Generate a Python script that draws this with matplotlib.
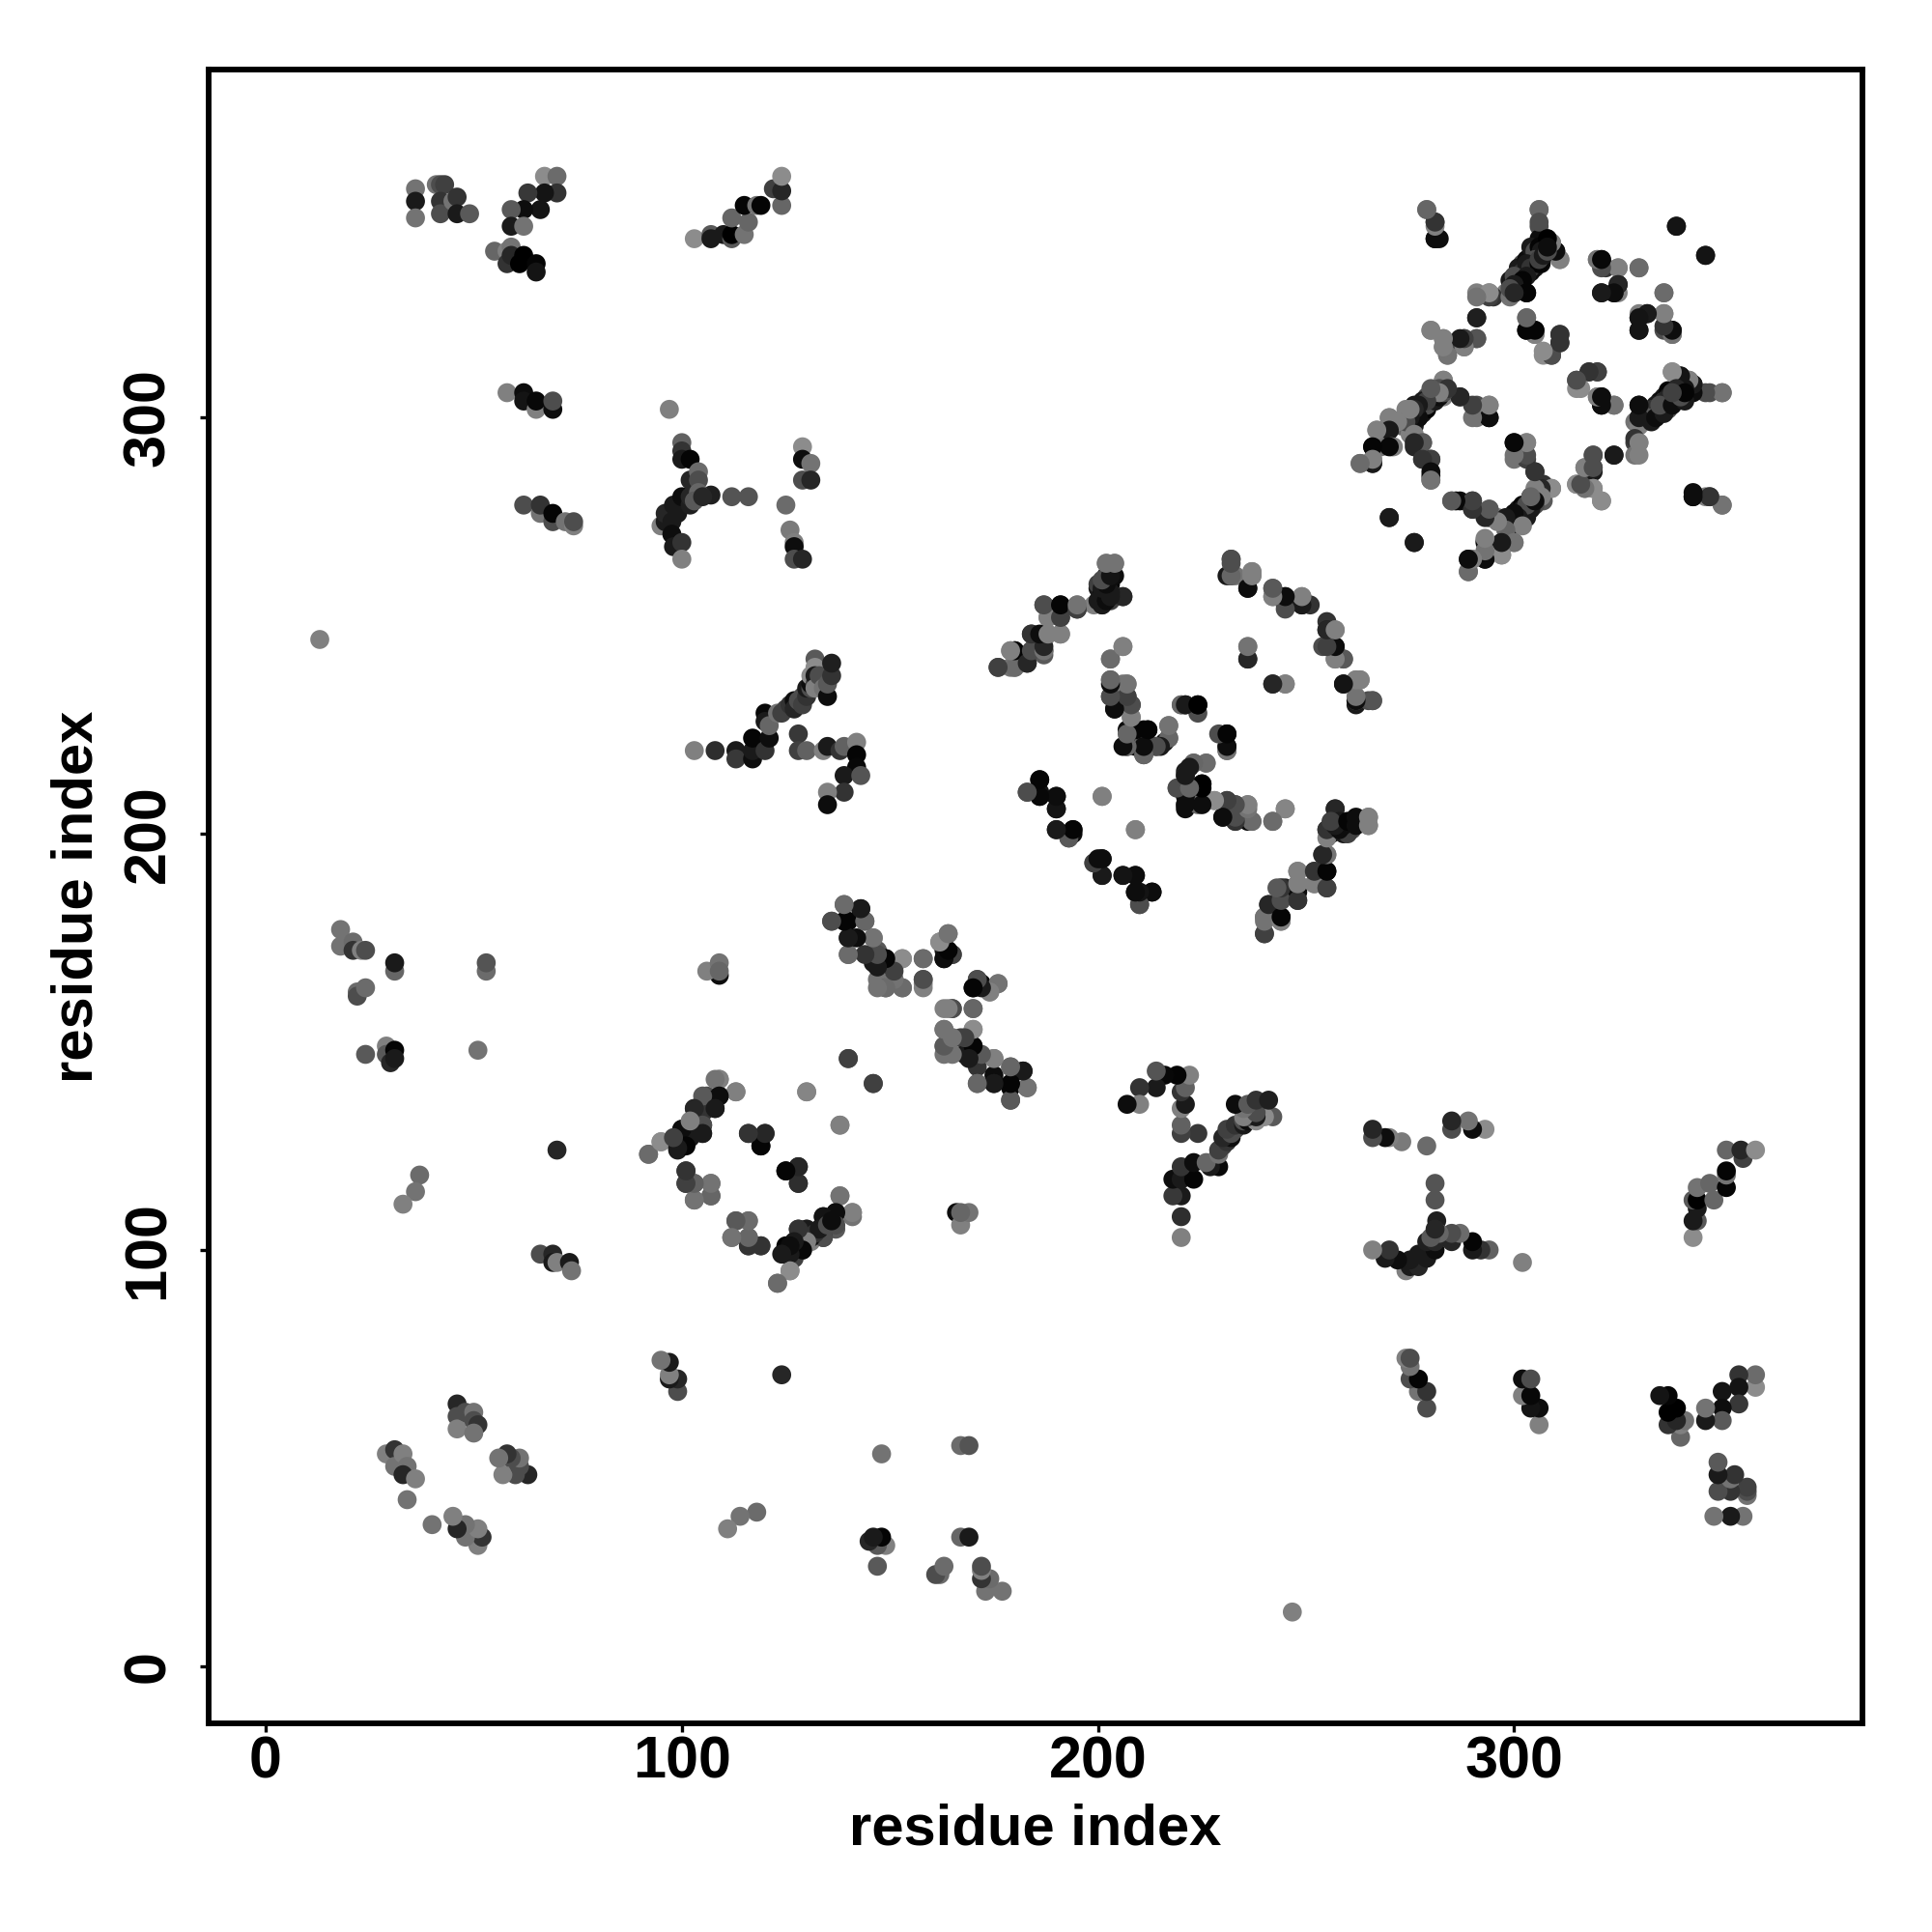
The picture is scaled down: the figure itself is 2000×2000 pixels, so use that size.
import matplotlib
matplotlib.use('Agg')
import matplotlib.pyplot as plt

# contacts as (residue i, residue j, grey level), only i<j, the map is mirrored below
top_left = [(36,355,.45),(36,352,.1),(36,348,.45),(41,356,.45),(42,356,.3),(43,356,.25),(42,352,.2),(42,349,.3),
    (45,352,.45),(46,353,.2),(46,349,.1),(49,349,.35),(67,358,.55),(70,358,.42),(70,354,.2),(67,354,.08),(63,354,.22),
    (66,350,.08),(62,350,.05),(59,350,.35),(59,346,.1),(62,346,.45),(55,340,.4),(58,340,.5),(59,341,.45),(58,337,.2),
    (59,339,.15),(62,339,0),(61,337,0),(65,337,.02),(65,335,.08)]
top_mid = [(103,343,.55),(107,344,.35),(107,343,.1),(110,344,.1),(112,343,.35),(112,344,0),(115,344,.45),(112,348,.4),
    (116,347,.4),(115,351,.02),(118,351,.45),(119,351,.02),(122,355,.25),(124,351,.4),(124,354.5,.15),(124,358,.55)]
row_300 = [(58,306,.5),(62,306,.05),(62,304,.08),(65,302,.5),(65,304,.03),(69,302,.05),(69,304,.3),
    (62,279,.3),(66,277,.45),(66,279,.2),(69,275,.3),(69,277,.02),(72,275,.45),(74,274,.5),(74,275,.3),(97,302,.5)]
branch_280 = [(100,294,.38),(100,292,.2),(100,290,.1),(102,290,.02),(102,285,.15),(104,287,.42),(104,285,.3),
    (107,281.4,.12),(112,281,.33),(116,281,.33),(95,274,.5),(96,275,.1),(96,277,.15),(97.6,275,.1),(98,279,.1),
    (99,277,.1),(100,281,.05),(102,279,.12),(102,281,.15),(104,282,.4),(103,280,.35),(105,281,.15),(97.6,272,.05),
    (98,269,.1),(100,270,.2),(100,266,.5),(125,279,.42),(126,273,.48),(127,270,.5),(127,269,.05),(127,266,.3),
    (129,266,.15),(129,293,.55),(129,290,.05),(131,289,.45),(129,285,.3),(131,285,.15)]
band_220 = [(13,246.7,.5),(103,220,.5),(108,220,.18),(113,220,.1),(113,218,.22),(117,218,.05),(117,220,.1),(117,223,.02),
    (120,220,.2),(121,223,.05),(120,229,.03),(120,227,.1),(121,226,.4),(123,229,.45),(124,229,.25),(125,230,.25),
    (126,231,.2),(127,232,.05),(127,230,.15),(128,232,.3),(129,233,.3),(129,231,.25),(130,233,.2),(130,235,.1),
    (131,235,.3),(131,236,.05),(131,238,.55),(132,236,.25),(132,242,.35),(132,240,.55),(132,238,.1),(132,235,.5),
    (133,238,.3),(134,235,.45),(135,233,.05),(135,236,.35),(136,238,.2),(136,241,.12),(128,224,.22),(128,220,.25),
    (130,220,.38),(134,220,.5),(135,221,.1),(138,220,.2),(139,221,.38),(142,222,.5),(142,219,.02),(142,216,.03),
    (139,214,.1),(143,214,.33),(139,210,.2),(135,210,.5),(135,207,.05)]
centre_upper = [(176,240,.25),(179,240,.45),(180,240,.45),(183,241,.15),(179,244,.5),(180,244,.02),(184,244,.3),
    (187,244,.2),(187,243,.35),(184,248,.2),(188,248,.5),(191,248,.5),(188,252,.5),(191,252,.2),(187,255,.25),
    (191,255,.02),(195,255,.45),(195,254,.15),(199,255,.5),(200,259,.1),(201,255,.2),(206,257,.15),(200,260,.25),
    (201,258,.05),(202,259,.05),(202,257,.1),(203,258,.1),(203,256,.25),(203,260,.02),(202,262,.05),(204,262,.05),
    (202,265,.5),(204,265,.5),(206,245,.52),(203,242,.42),(203,237,.42),
    (203,233,.2),(204,233,.3),(206,236,.45),(207,236,.5),(207,233,.3),(208,231,.25),(204,230,.05),(208,228,.55),
    (217,226,.42),(217,223,.4),(207,225,.05),(211,225,0),(212,225,0),(207,221,.05),(209,221,.05),(211,219,.3),
    (211,222,.4),(214,221,.1),(216,222,.1),(220,231,.45),(221,231,.05),(224,229,.3),(224,231,.02),(231,220,.4),
    (231,221,.1),(231,224,0),(223,217,.4),(226,217,.45),(221,215,.1),(221,214,.3),(219,211,.4),(221,211,.05),
    (221,207,.4),(221,206,.05),(225,212,.02),(225,209,.02),(225,208,.02),(224,207,.4),(228,208,.5),(231,208,.3),
    (230,204,.05),(233,207,.25),(233,203,.3),(236,207,.45),(236,203,.05),(237,203,.4),(242,203,.42),(245,206,.5)]
centre_right = [(236,245,.5),(236,242,.15),(242,236,.15),(245,236,.45),(232,266,.33),(232,262,.05),(233,262,.45),
    (237,263,.5),(237,262,.5),(236,259,.08),(242,259,.35),(242,257,.5),(245,257,.05),(245,255,.25),(249,255,.15),
    (249,257,.5),(255,251,.2),(255,249,.1),(257,249,.5),(254,245,.3),(257,245,.05),(257,242,.5),(259,242,.35),
    (259,236,.05),(262,237,.5),(263,237,.5),(262,231,.1),(262,232,.4),(265,232,.3),(266,232,.3)]
centre_lower = [(186,213,.05),(183,210,.3),(186,210,.08),(186,209,.05),(190,209,.05),(190,206,.08),(190,201,.1),
    (193,199,.25),(194,201,.05),(194,200,.05),(201,209,.5),(209,201,.5),(199,193,.35),(201,194,.02),(201,190,.1),
    (206,190,.08),(209,190,.05),(209,186,.03),(213,186,.02),(210,183,.3),(240,180,.42),(240,176,.25),(244,180,.02),
    (244,179,.5),(241,183,.15),(244,184,.3),(248,184,.2),(244,187,.45),(245,187,.15),(248,186,.05),(248,188,.5),
    (252,188,.5),(248,191,.5),(252,191,.25),(255,187,.3),(255,191,.02),(254,195,.25),(255,195,.45),(257,206,.15),
    (255,201,.1),(256,200,.1),(256,202,.05),(257,203,.1),(258,203,.1),(259,201,.1),(260,202,.05),(261,201,.3),
    (262,203,.08),(265,204,.45),(265,202,.45)]
domain_c_upper = [(279,350,.45),(281,347,.2),(281,343,.05),(282,343,.05),(306,350,.45),(306,346,.3),(306,343,.05),
    (308,343,.1),(309,342,.5),(310,340,.08),(311,338,.55),(307,341,.08),(307,339,.15),(304,339,.05),(305,337,.1),
    (302,337,.3),(304,336,.15),(301,334,.3),(302,333,.2),(300,332,.35),(298,330,.5),(300,330,.1),(303,330,.05),
    (299,333,.1),(300,334,.05),(301,336,.1),(303,335,.3),(303,338,.05),(304,341,.1),(305,340,.3),(306,341,.02),(306,338,.25),
    (295,329,.2),(294,330,.5),(291,330,.5),(291,324,.1),(303,324,.45),(303,321,.05),(305,320,.5),(305,321,.05),
    (311,320,.25),(311,318,.2),(307,315,.55),(309,315,.3),(280,321,.55),(283,319,.55),(283,317,.45),(284,315,.55),
    (284,316,.3),(288,317,.5),(288,319,.3),(291,319,.3),(320,338,.45),(321,338,.05),(322,336,.2),(325,336,.5),
    (330,336,.42),(325,330,.5),(325,332,.1),(321,330,.08),(324,330,.08),(339,346,.08),(346,339,.08),(336,330,.42),
    (336,325,.5),(332,325,.15),(330,324,.05),(330,321,.1),(336,321,.3),(338,320,.45),(338,321,.03)]
domain_c_lower = [(350,306,.4),(347,306,.3),(338,311,.5),(340,310,.05),(342,309,.5),(343,308,0),(340,306.5,.1),
    (337,306.5,.05),(338,305,.3),(336,305,.1),(335,302,.2),(337,303,.1),(333,301,.15),(334,300,.3),(329,299,.45),
    (335,304,.05),(336,304,.2),(337,306,.02),(338,306,.25),(339,307,.1),(340,308,.3),(334,303,.1),(333,302,.02),(332,300,.1),(341,308,.05),
    (331,299,.3),(330,303,.02),(330,300,.15),(329,294,.25),(330,294,.55),(329,291,.45),(324,291,.12),(315,309,.3),
    (318,311,.2),(320,311,.2),(316,307,.55),(320,305,.5),(321,305,.02),(321,303,.02),(324,303,.4),(319,291,.33),
    (317,288,.5),(319,288,.25),(319,287,.1),(315,284,.45),(317,283,.5),(319,283,.5),(321,280,.5),(343,281,.05),
    (346,281,.5),(347,281,.2),(350,279,.4)]
domain_c_mid = [(283,309,.55),(283,306.5,.15),(281,306.5,.5),(279,305,.3),(283,305,.5),(276,303,.1),(278,302,.1),
    (277,302,.05),(278,304,.1),(279,303,.3),(280,305,.05),(281,304,.4),(275,300,.02),(276,301,.1),(274,299,.05),
    (277,300,.05),(274,302,.5),(276,298,.1),(273,298,.4),(270,300,.45),(267,297,.55),(270,297,.1),(275,296,.5),
    (266,293,.05),(268,293,.45),(271,293,.5),(276,293,.15),(278,294,.35),(263,289,.42),(266,290,.5),(266,289,.05),
    (278,290,.2),(280,290,.25),(280,286,.03),(280,285,.35),(287,305,.2),(291,303,.3),(294,303,.5),(291,300,.45),
    (294,300,.03),(300,294,.05),(303,294,.5),(300,290,.45),(303,290,.25),(305,287,.15),(309,283,.5),(307,282,.3),
    (301,278,.1),(302,279,.02),(303,279,.3),(304,281,.1),(305,282,.05),(306,283,.3),(307,284,.2),
    (306,282,.5),(304,279,.25),(307,280,.35),(300,277,.05),(303,277,.1),(302,276,.15),(300,275,.1),(299,274,.3),
    (302,275,.5),(299,272,.5),(296,276,.5),(294,278,.35),(294,276,.15),(290,280,.25),(290,278,.2),(287,280,.05),
    (285,280,.45),(300,270,.5),(297,270,.1),(297,267,.5),(293,270.5,.5),(293,270,.03),(293,266,.02),(289,266,.1),
    (290,266,.5),(289,263,.42),(270,276,.1),(276,270,.1)]
far_left = [(18,177,.45),(18,173,.45),(21,174,.42),(21,172,.2),(23,172,.5),(24,172,.3),(31,167,.4),(31,169,.1),
    (53,167,.42),(53,169,.33),(22,162,.42),(22,161,.3),(24,163,.42),(24,147,.35),(29,149,.5),(29,147,.35),(30,145,.15),
    (31,148,.02),(31,146,.1),(51,148,.45),(37,118,.42),(36,114,.45),(33,111,.5),(70,124,.15),(66,99,.3),(69,99,.15),
    (69,97,.1),(70,97,.5),(73,97,.1),(73.5,95,.45),(109,166,.05),(106,167,.5),(109,169,.45),(109,167,.4)]
domain_b = [(109,141,.5),(113,138,.45),(109,137,.05),(106,137,.3),(108,134,.08),(105,134,.2),(103,134,.3),(105,130,.1),
    (100,127,.05),(101,128,.02),(102,129,.1),(103,131,.05),(104,132,.2),(105,133,.1),(106,135,.3),(107,136,.05),
    (102,130,.5),(100,129,.03),(105,128,.2),(102,127,.1),(99,126,.1),(101,126,.05),(95,126,.55),(92,123,.42),(99,124,.1),
    (116,128,.18),(120,128,.15),(119,125,.02),(140,146,.25),(146,140,.25),(130,138,.5),(138,130,.52),(125,119,.02),
    (128,120,.15),(128,116,.2),(101,119,.2),(101,116,.2),(103,116,.4),(107,116,.42),(107,113,.35),(103,112,.45),
    (113,107,.4),(116,107,.45),(112,103,.45),(116,103,.38),(116,101,.25),(119,101,.2),(123,92,.42),(126,95,.55),
    (126,100,.05),(128,101,.1),(129,102,.2),(130,103,.05),(131,104,.3),(132,104,.1),(133,105,.2),
    (138,113,.5),(141,109,.5),(141,108,.45),(137,109,.05),(137,105,.35),(134,108,.1),(134,103,.15),(130,105,.3),
    (128,105,.1),(127,102,.1),(129,100,.05),(125,101,.02),(124.5,99,.1),(127,98,.25),(131,102,.5)]
helix_170 = [(139,183,.45),(143,182,.1),(136,179,.35),(140,179,.02),(144,179,.4),(140,175,.1),(140,171,.4),(146,175,.5),
    (147,172,.35),(149,170,.02),(153,170,.55),(151,168,.25),(146,169,.1),(147,165,.45),(149,163,.35),(153,163,.45),
    (151,165,.45),(158,170,.4),(158,165,.3),(158,164,.5),(164,176,.45),(162,174,.5),(163,172,.1),(165,171,.3),(163,170,.02),
    (171,165,.25),(170,163,.05),(172,164,.02),(174,162,.55),(176,164,.45),(163,158,.5),(165,158,.3),(170,158,.42),(170,153,.55),
    (163,153,.42),(165,151,.45),(163,149,.42),(163,147,.45),(167,151,.25),(170,149,.02),(168,147,.1),(171,147,.3),(171,144,.2),
    (175,146,.45),(175,142,.05),(171,140,.42),(175,140,.1),(179,144,.4),(182,143,.1),(179,139,.02),(183,139,.42),(179,136,.3)]
domain_a = [(29,51,.5),(31,52,.2),(31,48,.45),(33,51,.5),(34,48,.45),(33,46,.15),(36,45,.5),(34,40,.45),(46,63,.15),
    (46,60,.3),(46,57,.5),(48,61,.3),(50,61,.45),(50,59,.3),(51,58,.2),(50,56,.45)]

groups = [top_left, top_mid, row_300, branch_280, band_220, centre_upper, centre_right, centre_lower, domain_c_upper,
    domain_c_lower, domain_c_mid, far_left, domain_b, helix_170, domain_a]

res_i, res_j, shade = [], [], []
for g in groups:
    for i, j, s in g:
        res_i.append(i)
        res_j.append(j)
        shade.append(str(s))

plt.rcParams['font.family'] = ['Liberation Sans', 'DejaVu Sans']
plt.rcParams['font.weight'] = 'bold'

fig = plt.figure(figsize=(10, 10), dpi=200)
ax = fig.add_axes([216/2000, 1-1784/2000, 1712/2000, 1712/2000])
ax.scatter(res_i, res_j, c=shade, s=50, linewidths=0, zorder=3)
ax.scatter(res_j, res_i, c=shade, s=50, linewidths=0, zorder=3)

ax.set_xlim(-13.7, 383.7)
ax.set_ylim(-13.75, 383.65)
ax.set_xticks([0, 100, 200, 300])
ax.set_yticks([0, 100, 200, 300])
ax.tick_params(length=3.4, width=1.2, labelsize=22)
ax.tick_params(axis='x', pad=1)
ax.tick_params(axis='y', pad=8.5)
for t in ax.get_yticklabels():
    t.set_rotation(90)
    t.set_va('center')
for s in ax.spines.values():
    s.set_linewidth(2.1)
ax.set_xlabel('residue index', fontsize=21.5, fontweight='bold', va='center')
ax.set_ylabel('residue index', fontsize=21.5, fontweight='bold', va='center')
ax.xaxis.set_label_coords(0.5, -0.0640)
ax.yaxis.set_label_coords(-0.0794, 0.5)

fig.savefig('out.png', dpi=200)
